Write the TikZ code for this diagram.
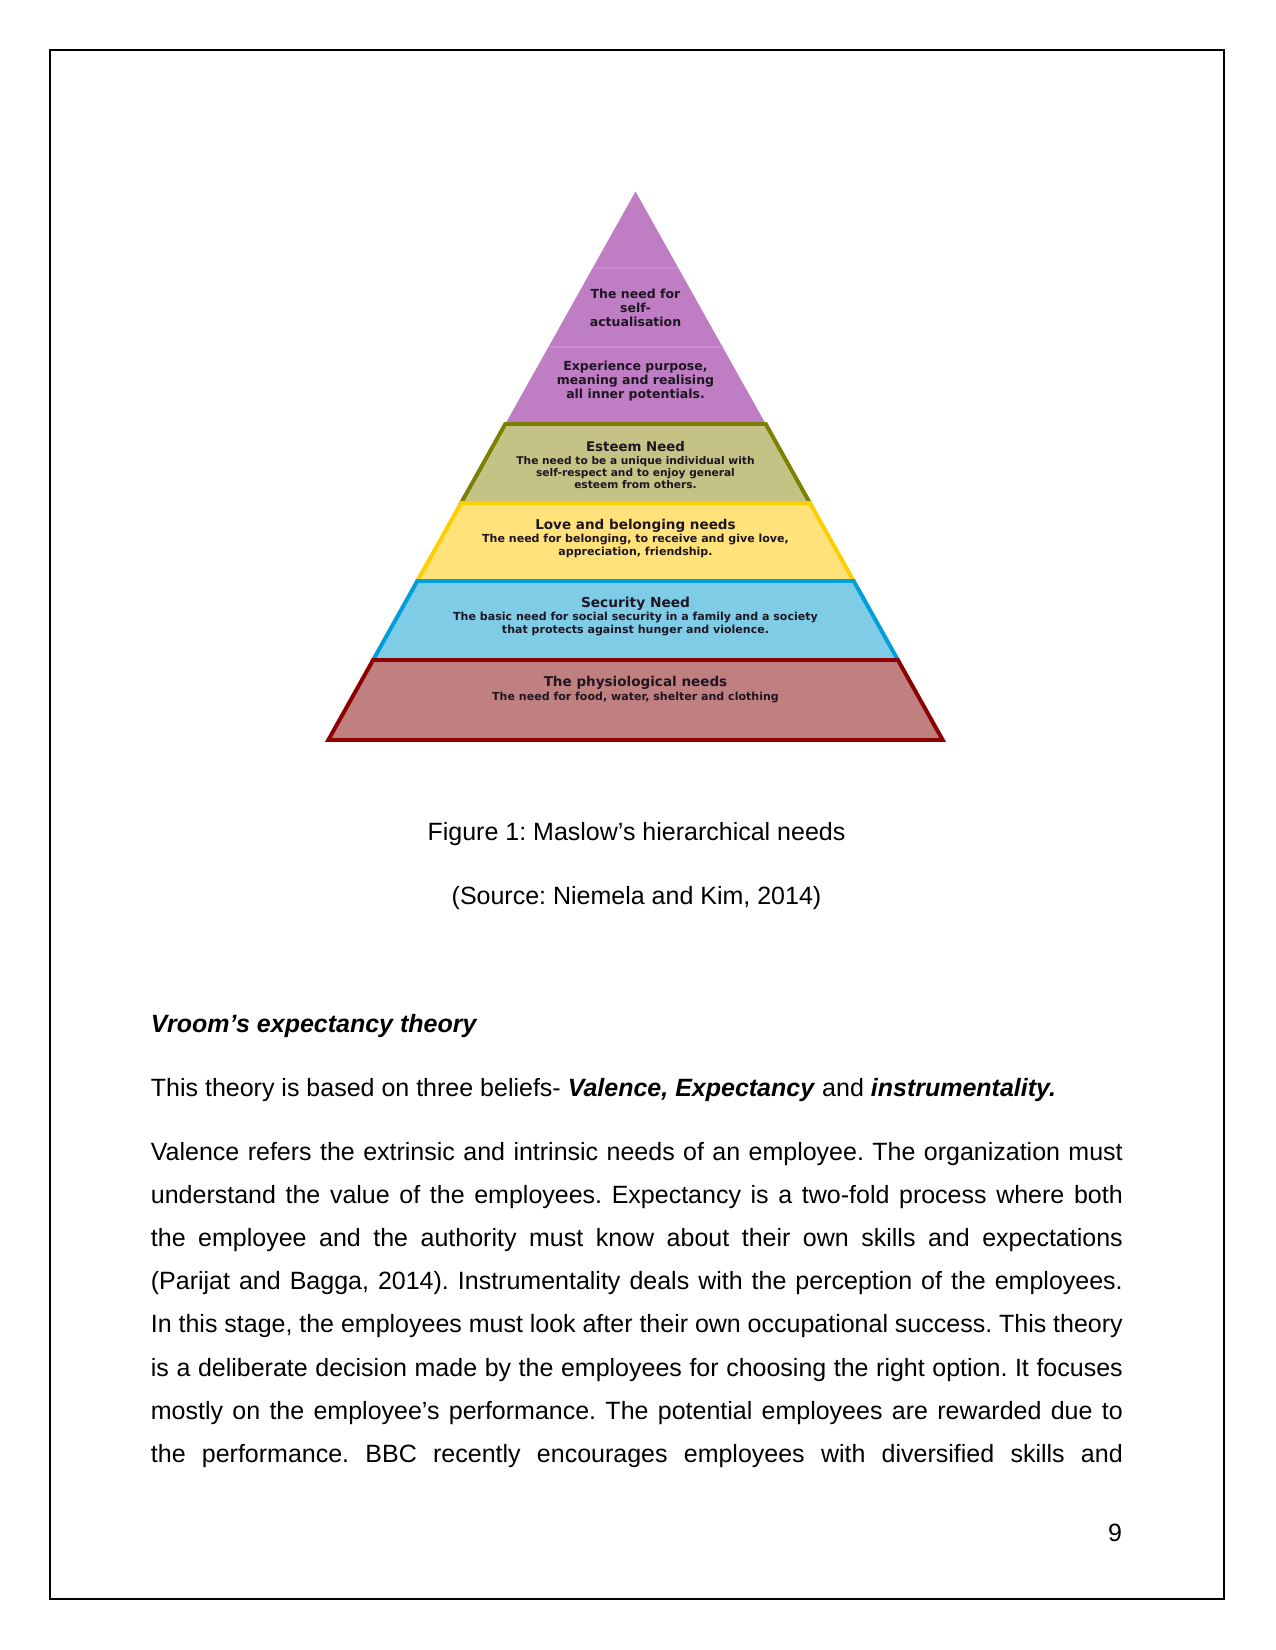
\documentclass[tikz,border=0pt]{standalone}
\usepackage{fontspec}
\setmainfont{Liberation Sans}
\newfontfamily\pyrfont{DejaVu Sans}
\usepackage{xcolor}
\usepackage{tikz}
\frenchspacing

\definecolor{selfpurple}{RGB}{191,125,196}
\definecolor{selfline}{RGB}{200,140,205}
\definecolor{esteemfill}{RGB}{196,194,132}
\definecolor{esteemdraw}{RGB}{125,128,0}
\definecolor{lovefill}{RGB}{255,226,122}
\definecolor{lovedraw}{RGB}{255,206,0}
\definecolor{securefill}{RGB}{126,204,230}
\definecolor{securedraw}{RGB}{0,158,218}
\definecolor{physfill}{RGB}{193,128,128}
\definecolor{physdraw}{RGB}{140,0,0}
\definecolor{pyrtext}{RGB}{30,22,35}

\begin{document}
\begin{tikzpicture}[x=0.48pt, y=-0.48pt,
    tier/.style={line width=1.9pt, line join=miter},
    tiertext/.style={align=center, inner sep=0pt, text=pyrtext,
        font=\pyrfont\bfseries\fontsize{5.3}{5.9}\selectfont},
    bodyline/.style={anchor=base west, inner sep=0pt, font=\fontsize{12}{14}\selectfont}]
    \useasboundingbox (0,0) rectangle (1275,1650);

    % Page frame
    \draw[line width=1pt] (50,50) rectangle (1224,1599);

    % Self-actualisation (top triangle)
    \fill[selfpurple] (635.5,191.5) -- (765.7,424) -- (505.3,424) -- cycle;
    \draw[selfline, line width=0.5pt] (592.7,268) -- (678.3,268);
    \draw[selfline, line width=0.5pt] (548.5,347) -- (722.5,347);

    % Esteem
    \filldraw[tier, fill=esteemfill, draw=esteemdraw] (505.3,424) -- (765.7,424) -- (809.9,503) -- (461.1,503) -- cycle;
    % Love and belonging
    \filldraw[tier, fill=lovefill, draw=lovedraw] (461.1,503) -- (809.9,503) -- (853.7,581) -- (417.3,581) -- cycle;
    % Security
    \filldraw[tier, fill=securefill, draw=securedraw] (417.3,581) -- (853.7,581) -- (897.9,660) -- (373.1,660) -- cycle;
    % Physiological
    \filldraw[tier, fill=physfill, draw=physdraw] (373.1,660) -- (897.9,660) -- (942.7,740) -- (328.3,740) -- cycle;

    % Pyramid labels
    \node[tiertext, font=\pyrfont\bfseries\fontsize{6}{6.6}\selectfont] (selfact) at (635.5,308) {The need for\\self-\\actualisation};
    \node[tiertext, font=\pyrfont\bfseries\fontsize{6}{6.6}\selectfont] (purpose) at (635.5,381) {Experience purpose,\\meaning and realising\\all inner potentials.};
    \node[tiertext, font=\pyrfont\bfseries\fontsize{5.1}{5.6}\selectfont] (esteem) at (635.5,465) {{\fontsize{6.4}{6.6}\selectfont Esteem Need}\\[0.7pt]The need to be a unique individual with\\self-respect and to enjoy general\\esteem from others.};
    \node[tiertext] (love) at (635.5,538.5) {{\fontsize{6.5}{6.6}\selectfont Love and belonging needs}\\[0.4pt]The need for belonging, to receive and give love,\\appreciation, friendship.};
    \node[tiertext] (security) at (635.5,616.5) {{\fontsize{6.6}{6.6}\selectfont Security Need}\\[0.4pt]The basic need for social security in a family and a society\\that protects against hunger and violence.};
    \node[tiertext] (physio) at (635.5,689.5) {{\fontsize{6.5}{6.6}\selectfont The physiological needs}\\[0.4pt]The need for food, water, shelter and clothing};

    % Caption
    \node[anchor=base, inner sep=0pt, font=\fontsize{12}{14}\selectfont] (caption) at (636.5,840) {Figure 1: Maslow’s hierarchical needs};
    \node[anchor=base, inner sep=0pt, font=\fontsize{12}{14}\selectfont] (source) at (636.5,904) {(Source: Niemela and Kim, 2014)};

    % Body text
    \node[bodyline] (heading) at (150.5,1032) {\textbf{\textit{Vroom’s expectancy theory}}};
    \node[bodyline] (beliefs) at (150.5,1096) {This theory is based on three beliefs- \textbf{\textit{Valence, Expectancy}} and \textbf{\textit{instrumentality.}}};
    \node[bodyline] (p1) at (150.5,1160) {\makebox[466.5pt][s]{Valence refers the extrinsic and intrinsic needs of an employee. The organization must}};
    \node[bodyline] (p2) at (150.5,1203) {\makebox[466.5pt][s]{understand the value of the employees. Expectancy is a two-fold process where both}};
    \node[bodyline] (p3) at (150.5,1246) {\makebox[466.5pt][s]{the employee and the authority must know about their own skills and expectations}};
    \node[bodyline] (p4) at (150.5,1289) {\makebox[466.5pt][s]{(Parijat and Bagga, 2014). Instrumentality deals with the perception of the employees.}};
    \node[bodyline] (p5) at (150.5,1332) {\makebox[466.5pt][s]{In this stage, the employees must look after their own occupational success. This theory}};
    \node[bodyline] (p6) at (150.5,1376) {\makebox[466.5pt][s]{is a deliberate decision made by the employees for choosing the right option. It focuses}};
    \node[bodyline] (p7) at (150.5,1419) {\makebox[466.5pt][s]{mostly on the employee’s performance. The potential employees are rewarded due to}};
    \node[bodyline] (p8) at (150.5,1462) {\makebox[466.5pt][s]{the performance. BBC recently encourages employees with diversified skills and}};

    % Page number
    \node[anchor=base east, inner sep=0pt, font=\fontsize{12}{14}\selectfont] (pagenum) at (1122.5,1541) {9};
\end{tikzpicture}
\end{document}
